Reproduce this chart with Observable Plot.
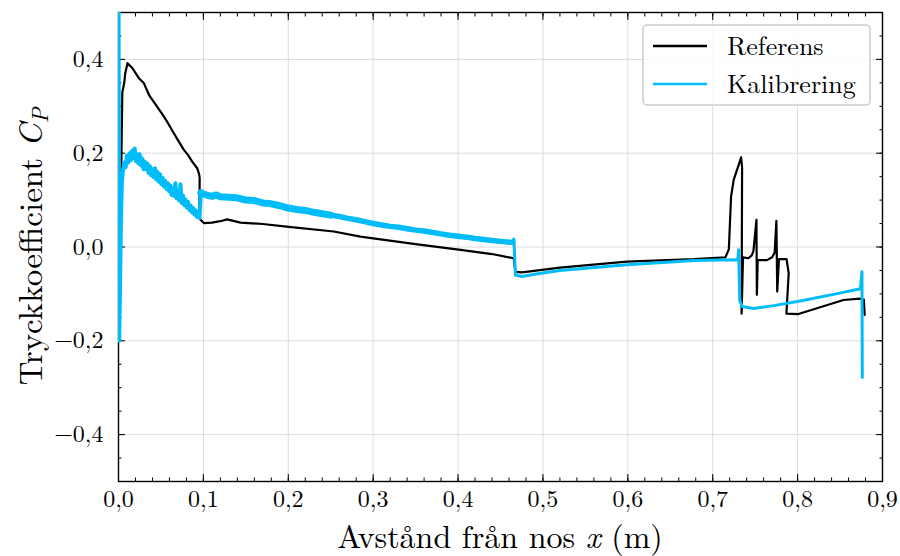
<!DOCTYPE html>
<html><head><meta charset="utf-8">
<script src="https://cdn.jsdelivr.net/npm/d3@7"></script>
<script src="https://cdn.jsdelivr.net/npm/@observablehq/plot@0.6"></script>
<style>body{margin:0;background:#fff} svg{display:block}</style>
</head><body><div id="chart"></div><script>
// ---- data (x in m, y = Cp) ----
const seriesNames = ["Referens", "Kalibrering"];
const seriesColors = ["#000000", "#00bdf9"];

const referens = [
  [0.0025,0.02],[0.0035,0.20],[0.0045,0.33],[0.0067,0.349],[0.0079,0.37],[0.0106,0.392],
  [0.0165,0.381],[0.024,0.36],[0.030,0.349],[0.036,0.324],[0.044,0.303],[0.052,0.282],
  [0.058,0.265],[0.065,0.243],[0.070,0.228],[0.077,0.207],[0.082,0.196],[0.0868,0.182],
  [0.0927,0.168],[0.0950,0.155],[0.0956,0.147],[0.0954,0.086],[0.0939,0.065],[0.0966,0.058],
  [0.1005,0.051],[0.110,0.052],[0.120,0.055],[0.128,0.059],[0.1437,0.052],[0.170,0.049],
  [0.2006,0.043],[0.2536,0.033],[0.285,0.022],[0.300,0.0185],[0.350,0.006],[0.403,-0.006],
  [0.440,-0.015],[0.4656,-0.024],[0.4676,-0.053],[0.4755,-0.054],[0.520,-0.044],[0.599,-0.031],
  [0.678,-0.026],[0.7149,-0.022],[0.719,-0.005],[0.7216,0.107],[0.7247,0.143],[0.7306,0.175],
  [0.7334,0.191],[0.7346,0.17],[0.7340,-0.142],[0.7357,-0.022],[0.742,-0.024],[0.746,-0.018],
  [0.748,-0.008],[0.7515,0.058],[0.752,-0.102],[0.753,-0.028],[0.764,-0.028],[0.770,-0.022],
  [0.773,-0.012],[0.775,0.056],[0.776,-0.095],[0.778,-0.026],[0.787,-0.026],[0.7895,-0.056],
  [0.7868,-0.142],[0.801,-0.143],[0.854,-0.113],[0.873,-0.110],[0.878,-0.112],[0.879,-0.145]
];

// Kalibrering: noisy nose part
const kalibreringNose = [
  [0.0000,0.60],[0.0008,-0.20],[0.0020,-0.06],[0.0030,0.07],[0.0040,0.14],[0.0055,0.165],
  [0.0070,0.18],[0.0085,0.17],[0.0100,0.195],[0.0115,0.18],[0.0130,0.20],[0.0145,0.185],
  [0.0160,0.205],[0.0175,0.19],[0.0190,0.21],[0.0205,0.183],[0.0220,0.198],[0.0235,0.178],
  [0.0250,0.198],[0.0265,0.174],[0.0280,0.188],[0.0295,0.166],[0.0310,0.182],[0.0325,0.166],
  [0.0340,0.178],[0.0355,0.158],[0.0370,0.172],[0.0385,0.153],[0.0400,0.166],[0.0415,0.149],
  [0.0430,0.168],[0.0445,0.144],[0.0460,0.160],[0.0475,0.139],[0.0490,0.155],[0.0505,0.134],
  [0.0520,0.147],[0.0535,0.129],[0.0550,0.141],[0.0565,0.124],[0.0580,0.136],[0.0595,0.119],
  [0.0610,0.131],[0.0625,0.111],[0.0640,0.126],[0.0655,0.109],[0.0670,0.136],[0.0685,0.104],
  [0.0700,0.118],[0.0715,0.099],[0.0730,0.134],[0.0745,0.094],[0.0760,0.110],[0.0775,0.089],
  [0.0790,0.101],[0.0805,0.084],[0.0820,0.096],[0.0835,0.079],[0.0850,0.088],[0.0865,0.074],
  [0.0880,0.083],[0.0895,0.069],[0.0910,0.078],[0.0925,0.064],[0.0940,0.070],[0.0955,0.062],
  [0.0970,0.116]
];

// Kalibrering: noisy band along the body (front, wider noise)
const kalibreringBodyFront = [
  [0.0970,0.116],[0.100,0.113],[0.105,0.110],[0.110,0.108],[0.115,0.111],[0.120,0.107],
  [0.130,0.106],[0.140,0.105],[0.150,0.100],[0.160,0.099],[0.170,0.094],[0.180,0.092],
  [0.190,0.088],[0.200,0.083],[0.210,0.080],[0.220,0.078],[0.230,0.074],[0.240,0.071],
  [0.250,0.068]
];
// Kalibrering: noisy band along the body (rear, narrower noise)
const kalibreringBodyRear = [
  [0.250,0.068],[0.260,0.065],[0.270,0.061],[0.280,0.058],[0.290,0.054],[0.300,0.050],
  [0.310,0.047],[0.320,0.044],[0.330,0.042],[0.340,0.039],[0.350,0.036],[0.360,0.034],
  [0.370,0.031],[0.380,0.028],[0.390,0.025],[0.400,0.023],[0.410,0.021],[0.420,0.018],
  [0.430,0.016],[0.440,0.014],[0.450,0.012],[0.460,0.010],[0.4645,0.010]
];

// Kalibrering: smooth tail
const kalibreringTail = [
  [0.4645,0.010],[0.4656,0.017],[0.4662,0.000],[0.4676,-0.060],[0.4755,-0.063],[0.490,-0.058],
  [0.520,-0.050],[0.599,-0.038],[0.678,-0.029],[0.7247,-0.027],[0.7295,-0.028],[0.7306,-0.006],
  [0.7318,-0.113],[0.7346,-0.127],[0.748,-0.131],[0.772,-0.125],[0.803,-0.115],[0.8425,-0.101],
  [0.874,-0.089],[0.8758,-0.053],[0.8762,-0.278]
];

const xTicks = [0,0.1,0.2,0.3,0.4,0.5,0.6,0.7,0.8,0.9];
const yTicks = [-0.4,-0.2,0,0.2,0.4];
const xMinor = d3.range(0, 0.9001, 0.02);
const yMinor = d3.range(-0.5, 0.5001, 0.05);

const fmtX = d => d.toFixed(1).replace(".", ",");
const fmtY = d => (d < 0 ? "\u2212" : "") + Math.abs(d).toFixed(1).replace(".", ",");
const none = () => "";

const toObj = arr => arr.map(([x, y]) => ({x, y}));
const font = "'Latin Modern Roman','CMU Serif','Liberation Serif','DejaVu Serif',serif";

const W = 900, H = 556, mL = 118, mR = 18, mT = 12, mB = 75;

const svg = Plot.plot({
  width: W, height: H,
  marginLeft: mL, marginRight: mR, marginTop: mT, marginBottom: mB,
  style: {fontFamily: font, fontSize: "23px", color: "black", background: "white"},
  x: {domain: [0, 0.9], label: null},
  y: {domain: [-0.5, 0.5], label: null},
  marks: [
    Plot.gridX(xTicks, {stroke: "#dcdcdc", strokeOpacity: 1, strokeWidth: 1}),
    Plot.gridY(yTicks, {stroke: "#dcdcdc", strokeOpacity: 1, strokeWidth: 1}),
    Plot.frame({stroke: "black", strokeWidth: 1.4}),
    Plot.axisX(xMinor, {anchor: "bottom", tickSize: -3.5, tickFormat: none, label: null}),
    Plot.axisX(xMinor, {anchor: "top", tickSize: -3.5, tickFormat: none, label: null}),
    Plot.axisY(yMinor, {anchor: "left", tickSize: -3.5, tickFormat: none, label: null}),
    Plot.axisY(yMinor, {anchor: "right", tickSize: -3.5, tickFormat: none, label: null}),
    Plot.axisX(xTicks, {anchor: "bottom", tickSize: -7, tickPadding: 15, tickFormat: fmtX, label: null, fontSize: 24}),
    Plot.axisX(xTicks, {anchor: "top", tickSize: -7, tickFormat: none, label: null}),
    Plot.axisY(yTicks, {anchor: "left", tickSize: -7, tickPadding: 22, tickFormat: fmtY, label: null, fontSize: 24}),
    Plot.axisY(yTicks, {anchor: "right", tickSize: -7, tickFormat: none, label: null}),
    Plot.line(toObj(referens), {x: "x", y: "y", stroke: seriesColors[0], strokeWidth: 2.2, clip: true}),
    Plot.line(toObj(kalibreringNose), {x: "x", y: "y", stroke: seriesColors[1], strokeWidth: 4, clip: true}),
    Plot.line(toObj(kalibreringBodyFront), {x: "x", y: "y", stroke: seriesColors[1], strokeWidth: 7, clip: true}),
    Plot.line(toObj(kalibreringBodyRear), {x: "x", y: "y", stroke: seriesColors[1], strokeWidth: 5.5, clip: true}),
    Plot.line(toObj(kalibreringTail), {x: "x", y: "y", stroke: seriesColors[1], strokeWidth: 3, clip: true})
  ]
});

const s = d3.select(svg);
// axis labels
const xl = s.append("text").attr("x", mL + (W - mL - mR) / 2).attr("y", 548)
  .attr("text-anchor", "middle").attr("font-family", font).attr("font-size", 32).attr("fill", "black");
xl.append("tspan").text("Avstånd från nos ");
xl.append("tspan").attr("font-style", "italic").text("x");
xl.append("tspan").text(" (m)");

const yl = s.append("text").attr("transform", `translate(42,${mT + (H - mT - mB) / 2}) rotate(-90)`)
  .attr("text-anchor", "middle").attr("font-family", font).attr("font-size", 33).attr("fill", "black");
yl.append("tspan").text("Tryckkoefficient ");
yl.append("tspan").attr("font-style", "italic").text("C");
yl.append("tspan").attr("font-style", "italic").attr("font-size", 23).attr("dy", 6).text("P");

// legend
const lg = s.append("g");
lg.append("rect").attr("x", 643).attr("y", 25).attr("width", 227).attr("height", 80).attr("rx", 4)
  .attr("fill", "white").attr("fill-opacity", 0.85).attr("stroke", "#cccccc").attr("stroke-width", 1.5);
seriesNames.forEach((name, i) => {
  const yy = 46 + i * 38;
  lg.append("line").attr("x1", 653).attr("x2", 707).attr("y1", yy).attr("y2", yy)
    .attr("stroke", seriesColors[i]).attr("stroke-width", 2.4);
  lg.append("text").attr("x", 727).attr("y", yy).attr("dy", "0.35em").attr("text-anchor", "start")
    .attr("font-family", font).attr("font-size", 26).attr("fill", "black").text(name);
});

document.getElementById("chart").appendChild(svg);
</script></body></html>
